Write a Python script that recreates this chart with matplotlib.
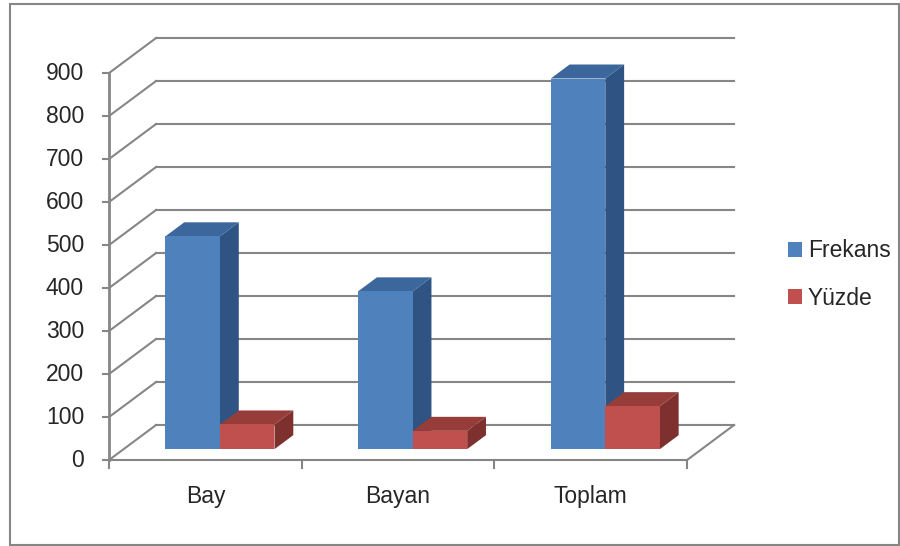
import matplotlib
matplotlib.use("Agg")
import matplotlib.pyplot as plt
from matplotlib.patches import Polygon, Rectangle, Patch

categories = ["Bay", "Bayan", "Toplam"]
frekans = [495, 367, 862]
yuzde = [57.4, 42.6, 100]
series_names = ["Frekans", "Yüzde"]
yticks = list(range(0, 1000, 100))

plt.rcParams["font.family"] = ["Liberation Sans", "DejaVu Sans"]

GRID = "#868686"
TEXT = "#262626"
FRONT = ["#4F81BD", "#C0504D"]
TOP = ["#3B679D", "#963C39"]
SIDE = ["#2F5382", "#7D302E"]

# oblique "3D" projection: (category, value, depth) -> 2D data coords
DU, DV = 0.244, 81.4          # shift of the back wall
D0, D1 = 0.31, 0.71           # depth of the bars
GAP, BW = 0.217, 0.283        # gap before first bar, bar width (category units)


def proj(u, v, d):
    return (u + d * DU, v + d * DV)


fig = plt.figure(figsize=(9, 5.46), dpi=100)
ax = fig.add_axes([0, 0, 1, 1])
ax.set_xlim(-0.566, 4.105)
ax.set_ylim(-200, 1069.8)
ax.axis("off")

n = len(categories)

# walls: back gridlines + side diagonals
for v in yticks:
    ax.plot(*zip(proj(0, v, 1), proj(n, v, 1)), color=GRID, lw=1.5, zorder=1)
    ax.plot(*zip(proj(0, v, 0), proj(0, v, 1)), color=GRID, lw=1.5, zorder=1)
    ax.plot([-0.031, 0], [v, v], color=GRID, lw=1.5, zorder=1)
    ax.text(-0.13, v, str(v), ha="right", va="center", fontsize=16.5, color=TEXT)
ax.plot([0, 0], [0, yticks[-1]], color=GRID, lw=2, zorder=1)

# floor
ax.plot(*zip(proj(0, 0, 0), proj(n, 0, 0), proj(n, 0, 1)), color=GRID, lw=1.5, zorder=1)
for i in range(n + 1):
    ax.plot([i, i], [0, -19], color=GRID, lw=1.5, zorder=1)
for i, c in enumerate(categories):
    ax.text(i + 0.5, -86, c, ha="center", va="center", fontsize=16.5, color=TEXT)

# bars
for i in range(n):
    for s, vals in enumerate([frekans, yuzde]):
        h = vals[i]
        u0 = i + GAP + s * BW
        u1 = u0 + BW
        front = [proj(u0, 0, D0), proj(u1, 0, D0), proj(u1, h, D0), proj(u0, h, D0)]
        side = [proj(u1, 0, D0), proj(u1, 0, D1), proj(u1, h, D1), proj(u1, h, D0)]
        top = [proj(u0, h, D0), proj(u1, h, D0), proj(u1, h, D1), proj(u0, h, D1)]
        z = 3 + i * 2 + s
        ax.add_patch(Polygon(side, closed=True, fc=SIDE[s], ec="none", zorder=z))
        ax.add_patch(Polygon(top, closed=True, fc=TOP[s], ec="none", zorder=z))
        ax.add_patch(Polygon(front, closed=True, fc=FRONT[s], ec="none", zorder=z))

handles = [Patch(fc=FRONT[k], ec="none", label=series_names[k]) for k in range(2)]
leg = fig.legend(handles=handles, loc="center left", bbox_to_anchor=(788 / 900, 1 - 274.5 / 546),
                 frameon=False, fontsize=16.5, handlelength=0.61, handleheight=0.61,
                 handletextpad=0.26, labelspacing=1.05, borderpad=0, borderaxespad=0)
for t in leg.get_texts():
    t.set_color(TEXT)

fig.add_artist(Rectangle((10 / 900, 1 - 545 / 546), 889 / 900, 541 / 546,
                         transform=fig.transFigure, fill=False, ec=GRID, lw=1.5))

fig.savefig("out.png", dpi=100)
